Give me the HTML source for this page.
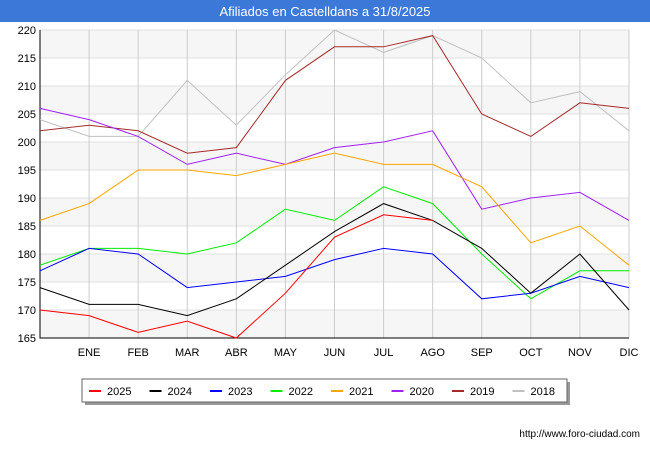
<!DOCTYPE html>
<html><head><meta charset="utf-8"><style>
body{margin:0;width:650px;height:450px;background:#fff;font-family:"Liberation Sans",sans-serif;overflow:hidden}
</style></head><body>
<svg width="650" height="450" style="position:absolute;left:0;top:0">
<rect x="0" y="0" width="650" height="22" fill="#3b78d8"/>
<text x="325" y="16" text-anchor="middle" fill="#fff" font-size="13">Afiliados en Castelldans a 31/8/2025</text>
<g id="plot"></g>
<g id="legend"></g>
<text x="640" y="437" text-anchor="end" font-size="10" fill="#000">http://www.foro-ciudad.com</text>
</svg>
<script>
const months=["","ENE","FEB","MAR","ABR","MAY","JUN","JUL","AGO","SEP","OCT","NOV","DIC"];
const yTicks=[165,170,175,180,185,190,195,200,205,210,215,220];
const seriesNames=["2025","2024","2023","2022","2021","2020","2019","2018"];
const seriesColors=["#ff0000","#000000","#0000ff","#00ee00","#ffa500","#a020f0","#a52a2a","#c0c0c0"];
const s2025=[170,169,166,168,165,173,183,187,186];
const s2024=[174,171,171,169,172,178,184,189,186,181,173,180,170];
const s2023=[177,181,180,174,175,176,179,181,180,172,173,176,174];
const s2022=[178,181,181,180,182,188,186,192,189,180,172,177,177];
const s2021=[186,189,195,195,194,196,198,196,196,192,182,185,178];
const s2020=[206,204,201,196,198,196,199,200,202,188,190,191,186];
const s2019=[202,203,202,198,199,211,217,217,219,205,201,207,206];
const s2018=[204,201,201,211,203,212,220,216,219,215,207,209,202];
const allSeries=[s2025,s2024,s2023,s2022,s2021,s2020,s2019,s2018];
const NS="http://www.w3.org/2000/svg";
const X0=40,X1=629,Y0=338,Y1=30,ymin=165,ymax=220;
const xs=i=>X0+(X1-X0)*i/(months.length-1);
const ys=v=>Y0-(v-ymin)/(ymax-ymin)*(Y0-Y1);
const plot=document.getElementById('plot');
function mk(tag,attrs,parent){const e=document.createElementNS(NS,tag);for(const k in attrs)e.setAttribute(k,attrs[k]);parent.appendChild(e);return e;}
for(let i=0;i<yTicks.length-1;i++){
  if(i%2===0){const r=mk('rect',{x:X0,y:ys(yTicks[i+1]),width:X1-X0,height:ys(yTicks[i])-ys(yTicks[i+1]),fill:'#f6f6f6'},plot);
  
  }
}
yTicks.forEach(v=>{
  const l=mk('line',{x1:X0,x2:X1,y1:ys(v),y2:ys(v),stroke:'#e2e2e2'},plot);
  
  
  const t=mk('text',{x:X0-4,y:ys(v)+4,'text-anchor':'end','font-size':'11',fill:'#000'},plot);
  t.textContent=v;
  
  
});
months.forEach((m,i)=>{
  if(i>0){const l=mk('line',{x1:xs(i),x2:xs(i),y1:Y1,y2:Y0,stroke:'#cccccc'},plot);
  
  }
  const t=mk('text',{x:xs(i),y:356,'text-anchor':'middle','font-size':'11',fill:'#000'},plot);
  t.textContent=m;
  
  
});
const ax=mk('path',{d:`M${X0},${Y1}V${Y0}H${X1}`,fill:'none',stroke:'#000'},plot);


for(let s=allSeries.length-1;s>=0;s--){
  const d=allSeries[s].map((v,i)=>(i?'L':'M')+xs(i)+','+ys(v)).join('');
  const p=mk('path',{d:d,fill:'none',stroke:seriesColors[s],'stroke-width':'1'},plot);
  
  
}
const lg=document.getElementById('legend');
const sh=mk('rect',{x:85,y:382,width:485,height:23,fill:'#999'},lg);


const box=mk('rect',{x:82,y:379,width:485,height:23,fill:'#fff',stroke:'#666'},lg);


seriesNames.forEach((n,i)=>{
  const x=89+i*60.5;
  const g=mk('g',{},lg);
  
  
  mk('line',{x1:x,x2:x+12,y1:391,y2:391,stroke:seriesColors[i],'stroke-width':'2'},g);
  const t=mk('text',{x:x+18,y:395,'font-size':'11',fill:'#000'},g);
  t.textContent=n;
});
</script>
</body></html>
